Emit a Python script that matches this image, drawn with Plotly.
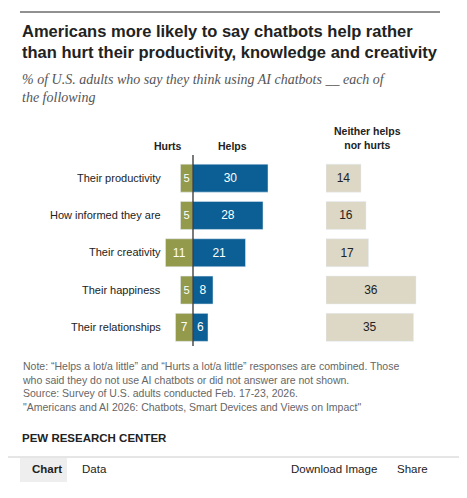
import plotly.graph_objects as go

categories = ["Their productivity", "How informed they are", "Their creativity", "Their happiness", "Their relationships"]
hurts = [5, 5, 11, 5, 7]
helps = [30, 28, 21, 8, 6]
neither = [14, 16, 17, 36, 35]

W, H = 467, 498
OFF = 8
def px(x): return (x - OFF) / W
def py(y): return 1 - (y - OFF) / H

ys = list(range(len(categories)))
BLUE, OLIVE, BEIGE = "#0b5f94", "#949a4b", "#ddd7c5"

fig = go.Figure()
fig.add_bar(y=ys, x=[-v for v in hurts], orientation="h", marker_color=OLIVE, width=0.75,
            text=[str(v) for v in hurts], textposition="inside", insidetextanchor="middle",
            textfont=dict(color="white", size=12), xaxis="x", yaxis="y", hoverinfo="skip")
fig.add_bar(y=ys, x=helps, orientation="h", marker_color=BLUE, width=0.75,
            text=[str(v) for v in helps], textposition="inside", insidetextanchor="middle",
            textfont=dict(color="white", size=12), xaxis="x", yaxis="y", hoverinfo="skip")
fig.add_bar(y=ys, x=neither, orientation="h", marker_color=BEIGE, width=0.75,
            text=[str(v) for v in neither], textposition="inside", insidetextanchor="middle",
            textfont=dict(color="#222", size=12), xaxis="x2", yaxis="y", hoverinfo="skip")

scale = 2.5
c = 193
fig.update_layout(
    width=W, height=H, margin=dict(l=0, r=0, t=0, b=0), showlegend=False,
    paper_bgcolor="white", plot_bgcolor="rgba(0,0,0,0)", barmode="relative",
    font=dict(family="Liberation Sans, Arial", color="#222"),
    xaxis=dict(domain=[px(140), px(310)], range=[(140 - c) / scale, (310 - c) / scale], visible=False),
    xaxis2=dict(domain=[px(326), px(440)], range=[0, (440 - 326) / scale], visible=False),
    yaxis=dict(domain=[py(346), py(159.5)], range=[4.5, -0.5], visible=False),
)

shapes = [
    dict(type="line", xref="paper", yref="paper", x0=px(20), x1=px(440), y0=py(12), y1=py(12), line=dict(color="#222", width=1)),
    dict(type="line", xref="paper", yref="paper", x0=px(193), x1=px(193), y0=py(155), y1=py(346), line=dict(color="#222", width=1.2)),
    dict(type="line", xref="paper", yref="paper", x0=px(8), x1=px(467), y0=py(457), y1=py(457), line=dict(color="#ccc", width=1)),
    dict(type="rect", xref="paper", yref="paper", x0=px(20), x1=px(67), y0=py(482), y1=py(458), fillcolor="#eeeeee", line=dict(width=0), layer="below"),
]
fig.update_layout(shapes=shapes)

ann = []
def A(x, y, t, **k):
    d = dict(xref="paper", yref="paper", x=px(x), y=py(y), text=t, showarrow=False, xanchor="left", yanchor="middle")
    d.update(k)
    ann.append(d)

A(20, 20, "<b>Americans more likely to say chatbots help rather<br>than hurt their productivity, knowledge and creativity</b>",
  font=dict(size=16.5, color="#222"), yanchor="top", align="left")
A(20, 70, "<i>% of U.S. adults who say they think using AI chatbots __ each of<br>the following</i>",
  font=dict(size=14, color="#555", family="Liberation Serif, Georgia, serif"), yanchor="top", align="left")
A(168, 146, "<b>Hurts</b>", font=dict(size=10.5), xanchor="center")
A(232, 146, "<b>Helps</b>", font=dict(size=10.5), xanchor="center")
A(367, 138, "<b>Neither helps<br>nor hurts</b>", font=dict(size=10.5), xanchor="center")
rowy = [178, 215, 252, 290, 327]
for cat, y in zip(categories, rowy):
    A(163, y, cat, font=dict(size=11), xanchor="right")
A(20, 358, "Note: “Helps a lot/a little” and “Hurts a lot/a little” responses are combined. Those<br>"
  "who said they do not use AI chatbots or did not answer are not shown.<br>"
  "Source: Survey of U.S. adults conducted Feb. 17-23, 2026.<br>"
  "\"Americans and AI 2026: Chatbots, Smart Devices and Views on Impact\"",
  font=dict(size=10.5, color="#666"), yanchor="top", align="left")
A(20, 438, "<b>PEW RESEARCH CENTER</b>", font=dict(size=11.5, color="#222"))
A(30, 469, "<b>Chart</b>", font=dict(size=11.5, color="#222"))
A(80, 469, "Data", font=dict(size=11.5, color="#222"))
A(379, 469, "Download Image", font=dict(size=11.5, color="#222"), xanchor="right")
A(430, 469, "Share", font=dict(size=11.5, color="#222"), xanchor="right")
fig.update_layout(annotations=ann)

fig.write_html("out.html")
